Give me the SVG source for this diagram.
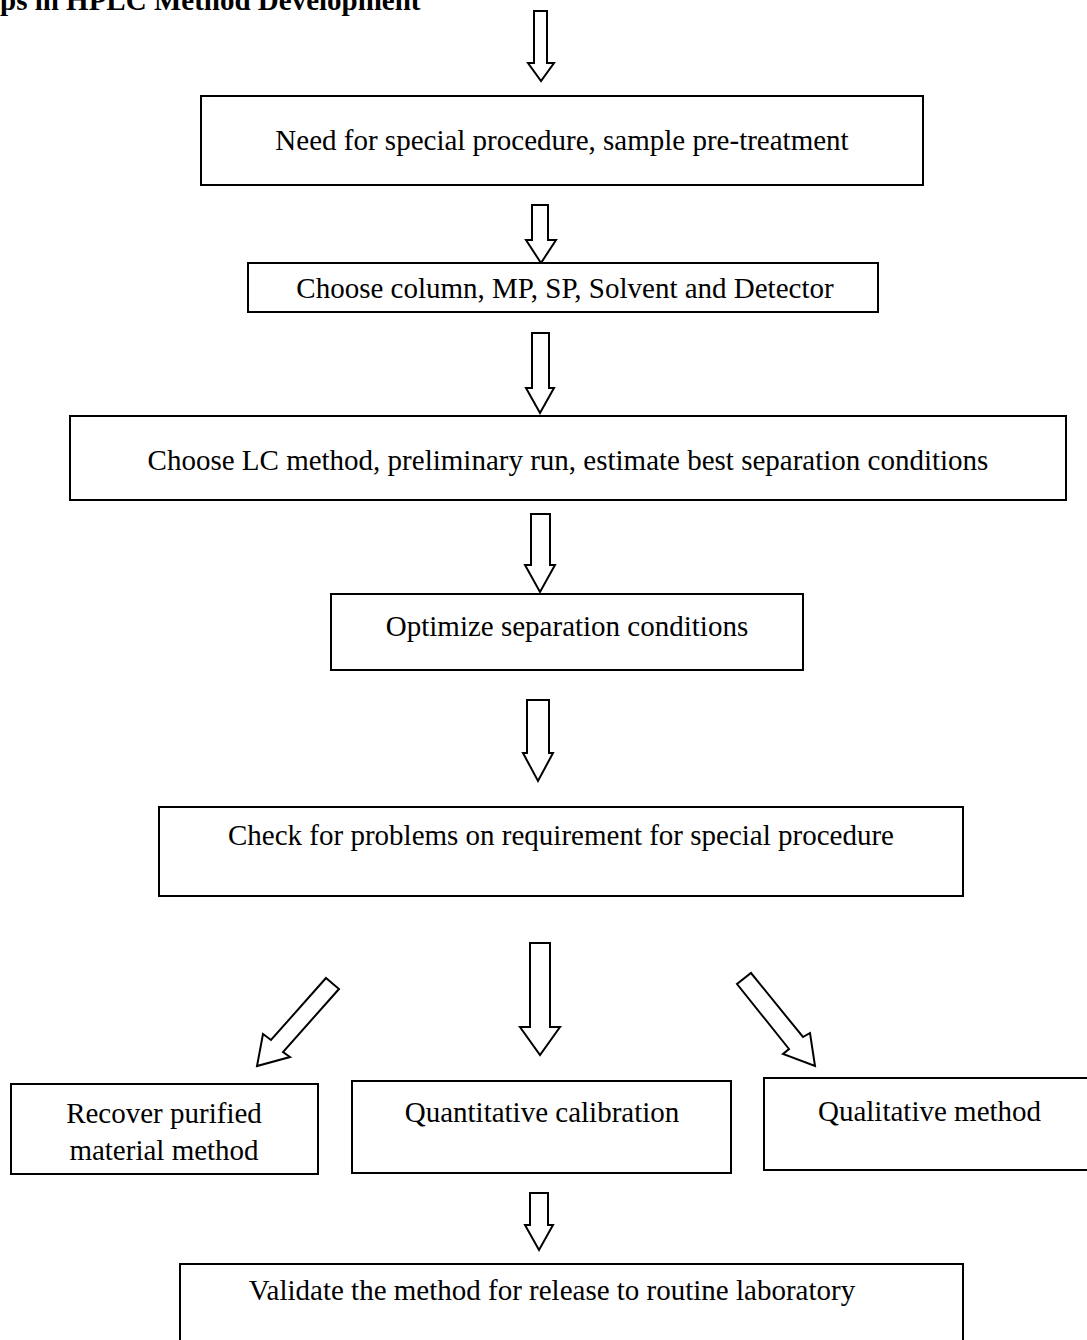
<svg xmlns="http://www.w3.org/2000/svg" width="1087" height="1340" viewBox="0 0 1087 1340">
<style>
  .box{fill:#fff;stroke:#000;stroke-width:2}
  .arr{fill:#fff;stroke:#000;stroke-width:2;stroke-linejoin:miter}
  .t{font-family:"Liberation Serif","Times New Roman",serif;font-size:29px;fill:#000}
  .c{text-anchor:middle}
  .title{font-family:"Liberation Serif","Times New Roman",serif;font-size:29px;font-weight:bold;fill:#000}
</style>
<rect width="1087" height="1340" fill="#fff"/>
<text class="title" x="0" y="10">ps in HPLC Method Development</text>

<g id="connectors">
  <polygon class="arr" points="534,11 547,11 547,63 554,63 541,81 528,63 534,63"/>
  <polygon class="arr" points="532,205 548,205 548,240 556,240 541,263 526,240 532,240"/>
  <polygon class="arr" points="532,333 549,333 549,388 554,388 540,413 526,388 532,388"/>
  <polygon class="arr" points="531,514 550,514 550,565 555,565 540,592 525,565 531,565"/>
  <polygon class="arr" points="527,700 549,700 549,753 553,753 538,781 523,753 527,753"/>
  <polygon class="arr" points="530,943 550,943 550,1027 560,1027 540,1055 520,1027 530,1027"/>
  <polygon class="arr" points="326,978 339,989 283,1052 290,1057 257,1066 263,1034 271,1040"/>
  <polygon class="arr" points="751,973 803,1037 810,1033 815,1066 783,1054 789,1049 737,984"/>
  <polygon class="arr" points="530,1193 548,1193 548,1225 553,1225 539,1250 525,1225 530,1225"/>
</g>

<g id="n1"><rect class="box" x="201" y="96" width="722" height="89"/>
  <text class="t c" x="562" y="150">Need for special procedure, sample pre-treatment</text></g>
<g id="n2"><rect class="box" x="248" y="263" width="630" height="49"/>
  <text class="t c" x="565" y="298">Choose column, MP, SP, Solvent and Detector</text></g>
<g id="n3"><rect class="box" x="70" y="416" width="996" height="84"/>
  <text class="t c" x="568" y="470">Choose LC method, preliminary run, estimate best separation conditions</text></g>
<g id="n4"><rect class="box" x="331" y="594" width="472" height="76"/>
  <text class="t c" x="567" y="636">Optimize separation conditions</text></g>
<g id="n5"><rect class="box" x="159" y="807" width="804" height="89"/>
  <text class="t c" x="561" y="845">Check for problems on requirement for special procedure</text></g>
<g id="n6"><rect class="box" x="11" y="1084" width="307" height="90"/>
  <text class="t c" x="164" y="1123">Recover purified</text>
  <text class="t c" x="164" y="1160">material method</text></g>
<g id="n7"><rect class="box" x="352" y="1081" width="379" height="92"/>
  <text class="t c" x="542" y="1122">Quantitative calibration</text></g>
<g id="n8"><rect class="box" x="764" y="1078" width="340" height="92"/>
  <text class="t" x="818" y="1121">Qualitative method</text></g>
<g id="n9"><rect class="box" x="180" y="1264" width="783" height="90"/>
  <text class="t c" x="552" y="1300">Validate the method for release to routine laboratory</text></g>
</svg>
